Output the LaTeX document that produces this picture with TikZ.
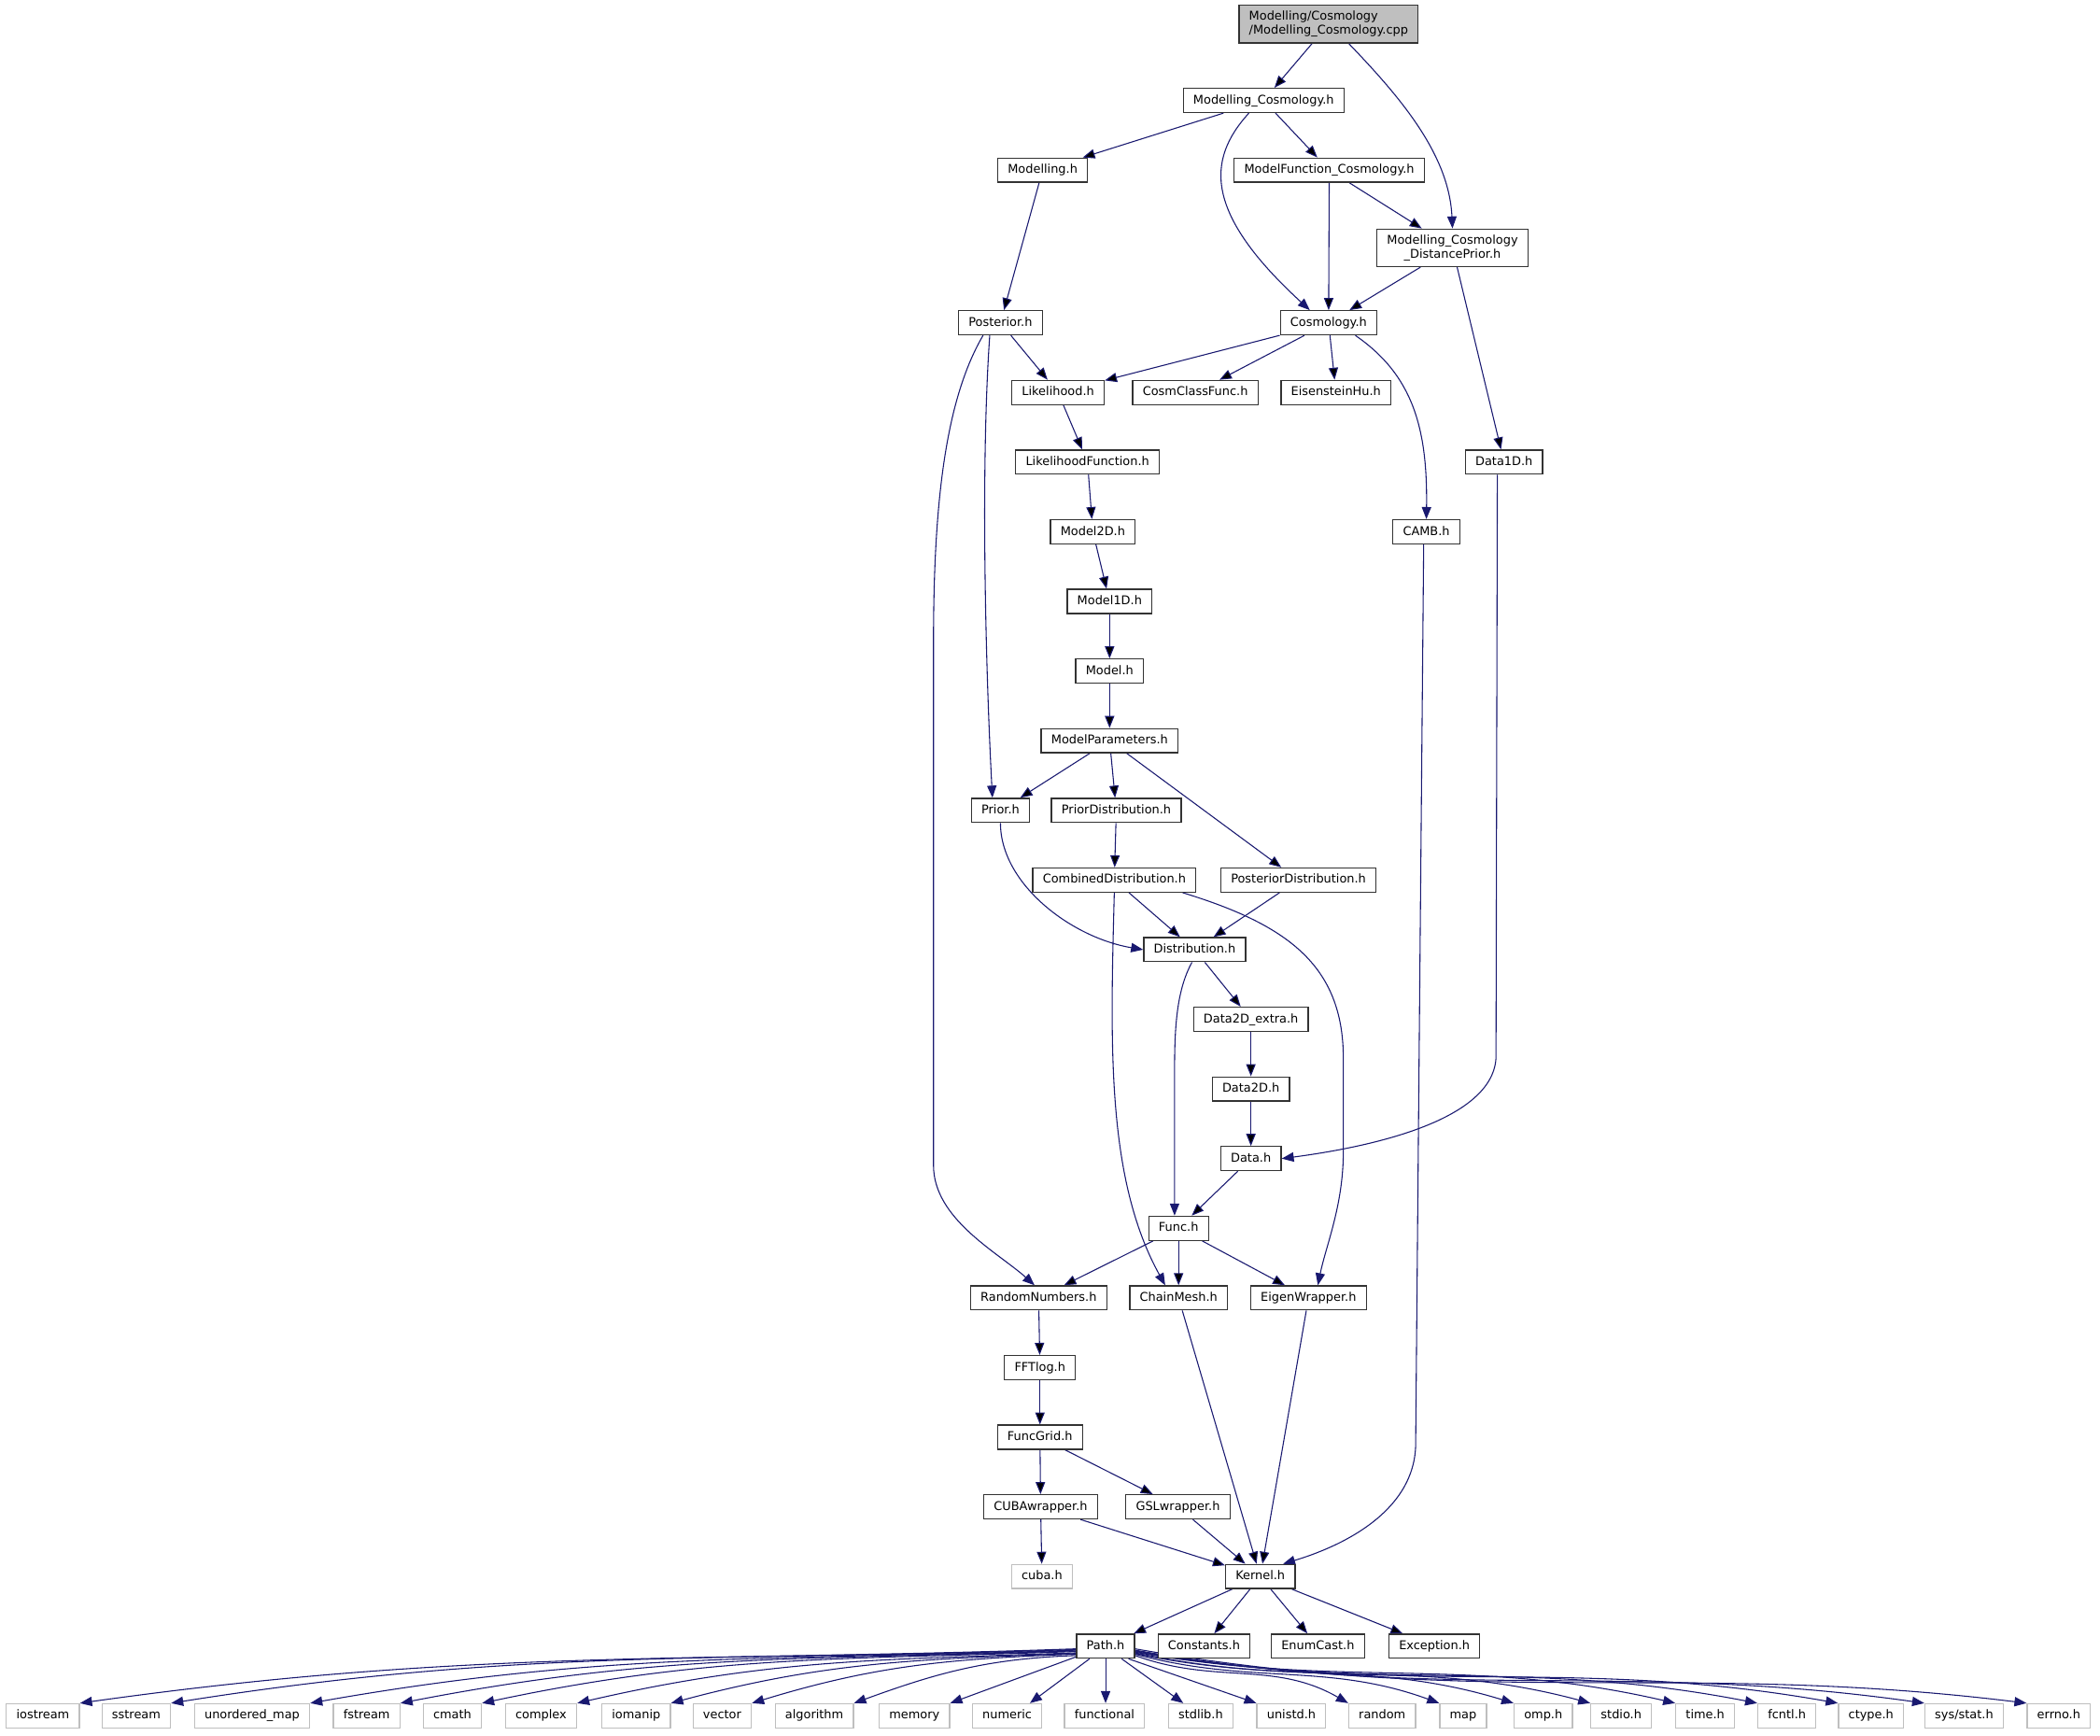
\documentclass[tikz,border=0pt]{standalone}
\usepackage{fontspec}
\newfontfamily\dejavu{DejaVu Sans}
\usetikzlibrary{arrows.meta,backgrounds,positioning}
\definecolor{edgeblue}{HTML}{191970}
\definecolor{leafgray}{HTML}{BFBFBF}
\tikzset{>={Triangle[length=9pt,width=7pt]},node distance=52pt}
\tikzset{basefile/.style={draw=black!80,line width=0.9pt,fill=white,font=\dejavu\fontsize{9}{10.5}\selectfont,inner xsep=7.5pt}}
\tikzset{file/.style={basefile,inner ysep=0pt,minimum height=18pt,text height=7pt,text depth=2pt}}
\tikzset{sysfile/.style={file,draw=leafgray}}
\tikzset{twofile/.style={basefile,inner ysep=2pt,minimum height=28pt}}
\tikzset{dep/.style={->,draw=edgeblue,line width=0.75pt}}

\begin{document}
\begin{tikzpicture}[x=1pt,y=1pt,>={Triangle[length=9pt,width=7pt]},node distance=52pt]
    \useasboundingbox (0,0) rectangle (1568,-1296);
    % files
    \node[twofile,fill=leafgray,align=left] (cpp) at (992,-18) {Modelling/Cosmology\\/Modelling\_Cosmology.cpp};
    \node[file] (mch) at (943.5,-75) {Modelling\_Cosmology.h};
    \node[file] (mod) at (778.5,-127) {Modelling.h};
    \node[file] (mfc) at (992.5,-127) {ModelFunction\_Cosmology.h};
    \node[twofile,align=center] (dp) at (1084.5,-185) {Modelling\_Cosmology\\\_DistancePrior.h};
    \node[file] (post) at (747,-241) {Posterior.h};
    \node[file] (cosmo) at (992,-241) {Cosmology.h};
    \node[file] (like) at (790,-293) {Likelihood.h};
    \node[file] (ccf) at (892.5,-293) {CosmClassFunc.h};
    \node[file] (eh) at (997.5,-293) {EisensteinHu.h};
    \node[file] (lf) at (812,-345) {LikelihoodFunction.h};
    \node[file] (d1d) at (1123,-345) {Data1D.h};
    \node[file] (m2d) at (816,-397) {Model2D.h};
    \node[file] (camb) at (1065,-397) {CAMB.h};
    \node[file] (m1d) at (828.5,-449) {Model1D.h};
    \node[file] (model) [below of=m1d] {Model.h};
    \node[file] (mp) [below of=model] {ModelParameters.h};
    \node[file] (prior) at (747,-605) {Prior.h};
    \node[file] (pd) at (833.5,-605) {PriorDistribution.h};
    \node[file] (cd) at (832,-657) {CombinedDistribution.h};
    \node[file] (postd) at (969.5,-657) {PosteriorDistribution.h};
    \node[file] (dist) at (892,-709) {Distribution.h};
    \node[file] (d2e) at (934,-761) {Data2D\_extra.h};
    \node[file] (d2d) [below of=d2e] {Data2D.h};
    \node[file] (data) [below of=d2d] {Data.h};
    \node[file] (funch) at (880,-917) {Func.h};
    \node[file] (rn) at (775.5,-969) {RandomNumbers.h};
    \node[file] (cm) at (880,-969) {ChainMesh.h};
    \node[file] (ew) at (977,-969) {EigenWrapper.h};
    \node[file] (fft) at (776.5,-1021) {FFTlog.h};
    \node[file] (fg) [below of=fft] {FuncGrid.h};
    \node[file] (cw) at (777,-1125) {CUBAwrapper.h};
    \node[file] (gsl) at (879.5,-1125) {GSLwrapper.h};
    \node[sysfile] (cuba) at (778,-1177) {cuba.h};
    \node[file] (kernel) at (941,-1177) {Kernel.h};
    \node[file] (path) at (825.5,-1229) {Path.h};
    \node[file] (const) at (899,-1229) {Constants.h};
    \node[file] (enum) at (984,-1229) {EnumCast.h};
    \node[file] (exc) at (1071,-1229) {Exception.h};
    % system headers
    \foreach \n/\x/\l in {ios/32/iostream, sst/101.75/sstream, umap/188.25/unordered\_map,
        fst/273.75/fstream, cmath/337.75/cmath, cplx/404/complex, iom/475/iomanip,
        vec/539.25/vector, algo/608/algorithm, mem/682.75/memory, num/752/numeric,
        fnl/824.7/functional, stdlibh/896.5/stdlib.h, unistdh/964.2/unistd.h,
        rnd/1032/random, map/1092.5/map, omph/1152.3/omp.h, stdioh/1210.5/stdio.h,
        timeh/1273.2/time.h, fcntlh/1334.2/fcntl.h, ctypeh/1397/ctype.h,
        stath/1466.5/{sys/stat.h}, errnoh/1537.2/errno.h}
        \node[sysfile] (\n) at (\x,-1281) {\l};

    \begin{scope}[on background layer]
    \path[dep]
        (cpp) edge (mch)
        (mch) edge (mod)
        (mch) edge (mfc)
        (mfc) edge (dp)
        (mfc) edge (cosmo)
        (dp) edge (cosmo)
        (dp) edge (d1d)
        (mod) edge (post)
        (post) edge (like)
        (cosmo) edge (like)
        (cosmo) edge (ccf)
        (cosmo) edge (eh)
        (like) edge (lf)
        (lf) edge (m2d)
        (m2d) edge (m1d)
        (m1d) edge (model)
        (model) edge (mp)
        (mp) edge (prior)
        (mp) edge (pd)
        (mp) edge (postd)
        (pd) edge (cd)
        (cd) edge (dist)
        (postd) edge (dist)
        (dist) edge (d2e)
        (d2e) edge (d2d)
        (d2d) edge (data)
        (data) edge (funch)
        (funch) edge (rn)
        (funch) edge (cm)
        (funch) edge (ew)
        (rn) edge (fft)
        (cm) edge (kernel)
        (ew) edge (kernel)
        (fft) edge (fg)
        (fg) edge (cw)
        (fg) edge (gsl)
        (cw) edge (cuba)
        (cw) edge (kernel)
        (gsl) edge (kernel)
        (kernel) edge (path)
        (kernel) edge (const)
        (kernel) edge (enum)
        (kernel) edge (exc);
    % long bends
    \draw[dep] ([xshift=15]cpp.south) .. controls (1045,-72) and (1082,-115) .. (dp.north);
    \draw[dep] ([xshift=-11]mch.south) .. controls (900,-120) and (900,-160) .. ([xshift=-14]cosmo.north);
    \draw[dep] ([xshift=-8]post.south) .. controls (732,-350) and (736,-500) .. ([xshift=-6]prior.north);
    \draw[dep] ([xshift=-13]post.south) .. controls (705,-300) and (697,-380) .. (697,-480)
        -- (697,-870) .. controls (697,-910) and (745,-935) .. ([xshift=-3]rn.north);
    \draw[dep] ([xshift=20]cosmo.south) .. controls (1055,-280) and (1066,-320) .. (camb.north);
    \draw[dep] ([xshift=-5]d1d.south) -- (1117,-790) .. controls (1114,-840) and (1010,-858) .. (data.east);
    \draw[dep] ([xshift=-2]camb.south) -- (1057,-1080) .. controls (1055,-1130) and (1000,-1155) .. ([xshift=17]kernel.north);
    \draw[dep] (prior.south) .. controls (747,-660) and (800,-700) .. (dist.west);
    \draw[dep] (cd.south) .. controls (829,-780) and (826,-880) .. ([xshift=-10]cm.north);
    \draw[dep] ([xshift=51]cd.south) .. controls (960,-690) and (1003,-720) .. (1003,-790)
        -- (1003,-860) .. controls (1003,-900) and (990,-930) .. ([xshift=7]ew.north);
    \draw[dep] ([xshift=-2]dist.south) .. controls (878,-740) and (877,-770) .. (877,-800) -- ([xshift=-3]funch.north);
    % Path.h fan
    \foreach \t/\s/\i in {ios/-2/8, sst/-2.5/9, umap/-3/10, fst/-3.5/11, cmath/-4/12,
        cplx/-5/13, iom/-5.5/15, vec/-6/17, algo/-7/20}
        \draw[dep] ([yshift=\s]path.west) to[out=182,in=\i] (\t.north east);
    \draw[dep] ([yshift=-8]path.west) -- (mem.north east);
    \draw[dep] ([xshift=-12]path.south) -- ([xshift=17]num.north);
    \draw[dep] (path.south) -- (path.south |- fnl.north);
    \draw[dep] ([xshift=12]path.south) -- ([xshift=-13]stdlibh.north);
    \draw[dep] ([xshift=-5]path.south east) -- (unistdh.north west);
    \foreach \t/\s/\o/\i in {rnd/-7/-20/150, map/-6/-15/160, omph/-5.5/-12/163,
        stdioh/-5/-12/165, timeh/-4.5/-10/167, fcntlh/-4/-10/169, ctypeh/-3.5/-10/170,
        stath/-3/-10/172, errnoh/-2/-10/173}
        \draw[dep] ([yshift=\s]path.east) to[out=\o,in=\i] (\t.north west);
    \end{scope}
\end{tikzpicture}
\end{document}
